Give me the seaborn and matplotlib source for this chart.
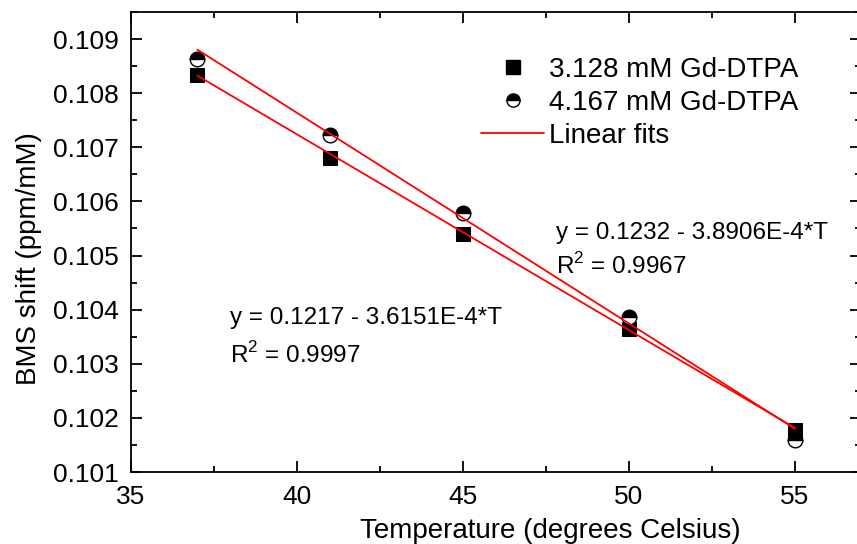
import numpy as np
import pandas as pd
import matplotlib
matplotlib.use("Agg")
import matplotlib.pyplot as plt
from matplotlib.lines import Line2D
from matplotlib.ticker import MultipleLocator, FormatStrFormatter
import seaborn as sns

# Measured BMS shifts versus temperature
temperature = [37, 41, 45, 50, 55]
shift_3128 = [0.10833, 0.10680, 0.10540, 0.10365, 0.10178]
shift_4167 = [0.10864, 0.10722, 0.10578, 0.10387, 0.10159]

# Linear fit coefficients (intercept, slope) as reported
fit_intercepts = [0.1217, 0.1232]
fit_slopes = [-3.6151e-4, -3.8906e-4]
fit_r2 = [0.9997, 0.9967]
fit_range = [37, 55]

series_labels = ["3.128 mM Gd-DTPA", "4.167 mM Gd-DTPA", "Linear fits"]

sns.set_theme(style="ticks")
plt.rcParams["font.family"] = ["Liberation Sans", "DejaVu Sans"]
plt.rcParams["mathtext.fontset"] = "custom"
plt.rcParams["mathtext.rm"] = "Liberation Sans"
for key in ["text.color", "axes.labelcolor", "xtick.color", "ytick.color",
            "axes.edgecolor"]:
    plt.rcParams[key] = "black"

FS_TICK = 19
FS_LABEL = 20
FS_LEG = 20
FS_ANN = 17.5

fig = plt.figure(figsize=(8.57, 5.44), dpi=100)
ax = fig.add_axes([131 / 857, 72 / 544, 730 / 857, 460 / 544])

df = pd.DataFrame({"T": temperature, "a": shift_3128, "b": shift_4167})

# Fitted lines
for b0, b1 in zip(fit_intercepts, fit_slopes):
    xs = np.array(fit_range, dtype=float)
    sns.lineplot(x=xs, y=b0 + b1 * xs, color="red", linewidth=1.3,
                 ax=ax, zorder=3)

# Data markers
sns.lineplot(data=df, x="T", y="a", linestyle="", marker="s", markersize=10.5,
             color="black", markeredgecolor="black", ax=ax, zorder=2)
sns.lineplot(data=df, x="T", y="b", linestyle="", marker="o", markersize=10.5,
             color="black", fillstyle="top", markerfacecoloralt="white",
             markeredgecolor="black", markeredgewidth=1.0, ax=ax, zorder=2)

ax.set_xlim(35, 57)
ax.set_ylim(0.101, 0.1095)
ax.xaxis.set_major_locator(MultipleLocator(5))
ax.xaxis.set_minor_locator(MultipleLocator(2.5))
ax.yaxis.set_major_locator(MultipleLocator(0.001))
ax.yaxis.set_minor_locator(MultipleLocator(0.0005))
ax.yaxis.set_major_formatter(FormatStrFormatter("%.3f"))

for s in ax.spines.values():
    s.set_visible(True)
    s.set_linewidth(1.3)
    s.set_color("black")
ax.tick_params(which="both", direction="in", top=True, right=True,
               labelsize=FS_TICK, color="black", width=1.3, pad=9)
ax.tick_params(which="major", length=8)
ax.tick_params(which="minor", length=4.5)

ax.set_xlabel("Temperature (degrees Celsius)", fontsize=FS_LABEL, labelpad=6.5)
ax.set_ylabel("BMS shift (ppm/mM)", fontsize=FS_LABEL, labelpad=8)
ax.xaxis.label.set_x(0.575)
ax.yaxis.label.set_y(0.463)

# Fit equations
def eq_text(b0, b1):
    return f"y = {b0:.4f} - {abs(b1) * 1e4:.4f}E-4*T"

ax.text(230 / 857, 1 - 318 / 544, eq_text(fit_intercepts[0], fit_slopes[0]),
        transform=fig.transFigure, fontsize=FS_ANN, va="center", ha="left")
ax.text(230 / 857, 1 - 355 / 544, r"R$^2$" + f" = {fit_r2[0]:.4f}",
        transform=fig.transFigure, fontsize=FS_ANN, va="center", ha="left")
ax.text(556 / 857, 1 - 233 / 544, eq_text(fit_intercepts[1], fit_slopes[1]),
        transform=fig.transFigure, fontsize=FS_ANN, va="center", ha="left")
ax.text(556 / 857, 1 - 266 / 544, r"R$^2$" + f" = {fit_r2[1]:.4f}",
        transform=fig.transFigure, fontsize=FS_ANN, va="center", ha="left")

handles = [
    Line2D([], [], linestyle="", marker="s", markersize=9.5, color="black"),
    Line2D([], [], linestyle="", marker="o", markersize=9.5, color="black",
           fillstyle="top", markerfacecoloralt="white", markeredgecolor="black"),
    Line2D([], [], color="red", linewidth=1.3),
]
ax.legend(handles, series_labels, loc="upper left",
          bbox_to_anchor=(481 / 857, 1 - 57 / 544),
          bbox_transform=fig.transFigure, frameon=False, fontsize=FS_LEG,
          borderpad=0, handlelength=2.27, handletextpad=0.18,
          labelspacing=0.25, borderaxespad=0)

fig.savefig("out.png", dpi=100)
